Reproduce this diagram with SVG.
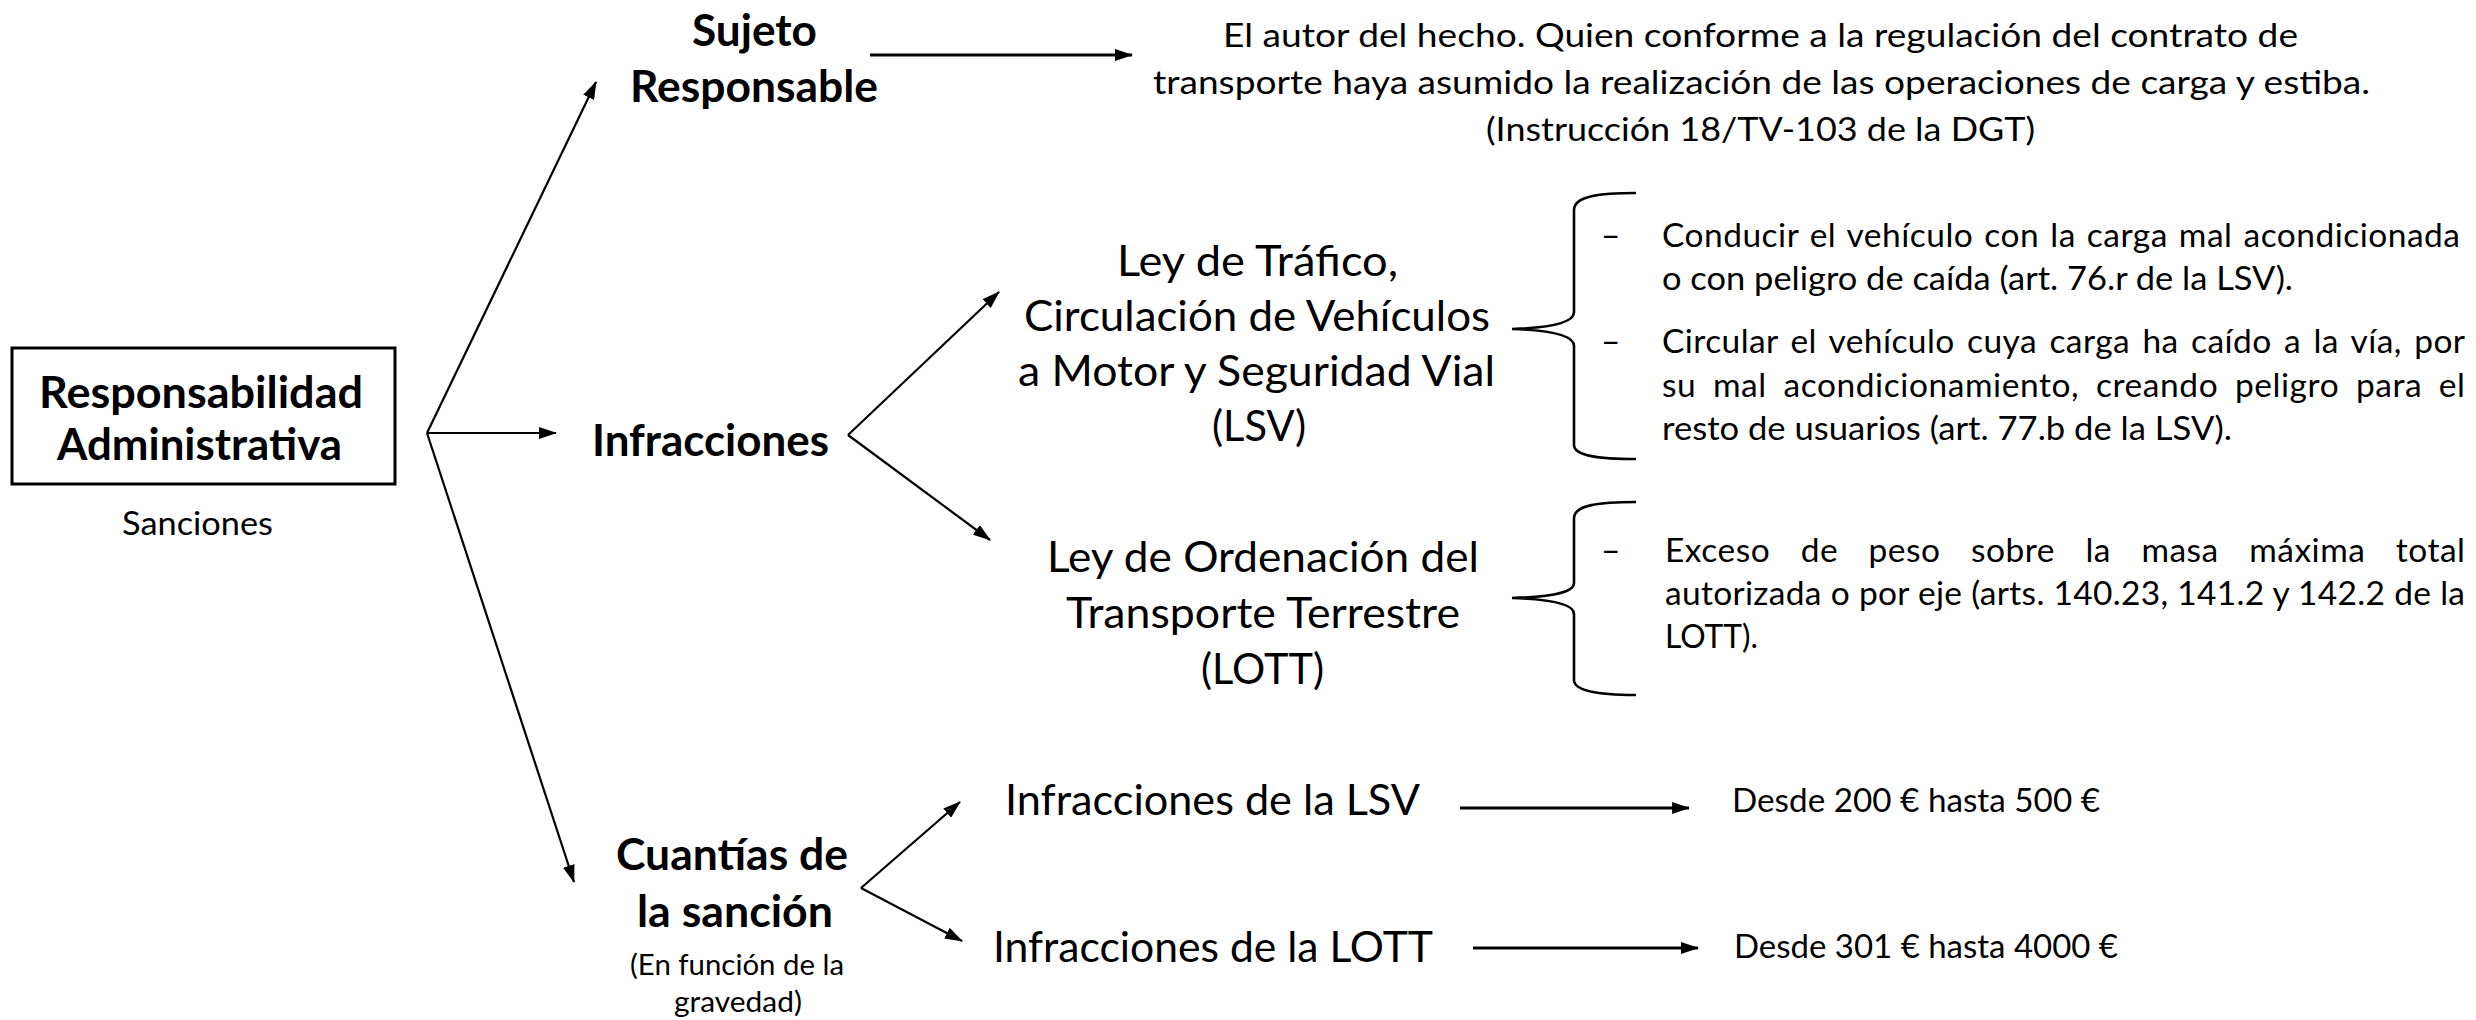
<svg xmlns="http://www.w3.org/2000/svg" width="2476" height="1020" viewBox="0 0 2476 1020">
<style>
text{font-family:Lato,"Liberation Sans",sans-serif;fill:#000}
.b{font-size:43px;font-weight:700}
.m{font-size:42.5px}
.s{font-size:33.5px}
.xs{font-size:28.5px}
.ln{stroke:#000;stroke-width:2.2;fill:none}
.lt{stroke:#000;stroke-width:3;fill:none}
.br{stroke:#000;stroke-width:2.6;fill:none}
</style>
<defs>
<marker id="ah" viewBox="0 0 18 12" refX="17" refY="6" markerWidth="18" markerHeight="12" markerUnits="userSpaceOnUse" orient="auto">
<path d="M0,0 L18,6 L0,12 Z" fill="#000"/>
</marker>
</defs>
<rect width="2476" height="1020" fill="#fff"/>

<g id="connectors">
<path class="ln" d="M427,433 L596,82" marker-end="url(#ah)"/>
<path class="ln" d="M427,433 L556,433" marker-end="url(#ah)"/>
<path class="ln" d="M427,433 L574,882" marker-end="url(#ah)"/>
<path class="lt" d="M870,55 L1132,55" marker-end="url(#ah)"/>
<path class="ln" d="M848,435 L999,292" marker-end="url(#ah)"/>
<path class="ln" d="M848,435 L990,540" marker-end="url(#ah)"/>
<path class="ln" d="M861,888 L960,802" marker-end="url(#ah)"/>
<path class="ln" d="M861,888 L962,941" marker-end="url(#ah)"/>
<path class="lt" d="M1460,808 L1689,808" marker-end="url(#ah)"/>
<path class="lt" d="M1473,948 L1698,948" marker-end="url(#ah)"/>
</g>

<g id="root">
<rect x="12" y="348" width="383" height="136" fill="none" stroke="#000" stroke-width="3"/>
<text class="b" x="39" y="408" textLength="324" lengthAdjust="spacingAndGlyphs">Responsabilidad</text>
<text class="b" x="57" y="460" textLength="285" lengthAdjust="spacingAndGlyphs">Administrativa</text>
<text class="s" x="122" y="535" textLength="151" lengthAdjust="spacingAndGlyphs">Sanciones</text>
</g>

<g id="sujeto">
<text class="b" x="692" y="46" textLength="125" lengthAdjust="spacingAndGlyphs">Sujeto</text>
<text class="b" x="630" y="102" textLength="248" lengthAdjust="spacingAndGlyphs">Responsable</text>
</g>

<g id="sujeto-def">
<text class="s" x="1223" y="47" textLength="1075" lengthAdjust="spacingAndGlyphs">El autor del hecho. Quien conforme a la regulación del contrato de</text>
<text class="s" x="1153" y="94" textLength="1217" lengthAdjust="spacingAndGlyphs">transporte haya asumido la realización de las operaciones de carga y estiba.</text>
<text class="s" x="1486" y="141" textLength="549" lengthAdjust="spacingAndGlyphs">(Instrucción 18/TV-103 de la DGT)</text>
</g>

<g id="infracciones">
<text class="b" x="592" y="456" textLength="237" lengthAdjust="spacingAndGlyphs">Infracciones</text>
</g>

<g id="lsv">
<text class="m" x="1117" y="276" textLength="281" lengthAdjust="spacingAndGlyphs">Ley de Tráfico,</text>
<text class="m" x="1024" y="331" textLength="466" lengthAdjust="spacingAndGlyphs">Circulación de Vehículos</text>
<text class="m" x="1018" y="386" textLength="477" lengthAdjust="spacingAndGlyphs">a Motor y Seguridad Vial</text>
<text class="m" x="1212" y="441" textLength="94" lengthAdjust="spacingAndGlyphs">(LSV)</text>
</g>

<g id="lsv-detail">
<path class="br" d="M1636,193 C1600,193 1574,196 1574,210 L1574,312 C1574,324 1545,328 1512,329 C1545,330 1574,334 1574,346 L1574,445 C1574,456 1600,459 1636,459"/>
<text class="s" x="1601" y="247">–</text>
<text class="s" x="1662" y="247" textLength="798" lengthAdjust="spacing" word-spacing="2">Conducir el vehículo con la carga mal acondicionada</text>
<text class="s" x="1662" y="290" textLength="631" lengthAdjust="spacingAndGlyphs">o con peligro de caída (art. 76.r de la LSV).</text>
<text class="s" x="1601" y="353">–</text>
<text class="s" x="1662" y="353" textLength="803" lengthAdjust="spacing" word-spacing="3.4">Circular el vehículo cuya carga ha caído a la vía, por</text>
<text class="s" x="1662" y="397" textLength="803" lengthAdjust="spacing" word-spacing="7.5">su mal acondicionamiento, creando peligro para el</text>
<text class="s" x="1662" y="440" textLength="570" lengthAdjust="spacingAndGlyphs">resto de usuarios (art. 77.b de la LSV).</text>
</g>

<g id="lott">
<text class="m" x="1047" y="572" textLength="432" lengthAdjust="spacingAndGlyphs">Ley de Ordenación del</text>
<text class="m" x="1066" y="628" textLength="394" lengthAdjust="spacingAndGlyphs">Transporte Terrestre</text>
<text class="m" x="1201" y="684" textLength="123" lengthAdjust="spacingAndGlyphs">(LOTT)</text>
</g>

<g id="lott-detail">
<path class="br" d="M1636,502 C1600,502 1574,505 1574,518 L1574,583 C1574,594 1545,597 1512,598 C1545,599 1574,603 1574,614 L1574,680 C1574,691 1600,695 1636,695"/>
<text class="s" x="1601" y="562">–</text>
<text class="s" x="1665" y="562" textLength="800" lengthAdjust="spacing" word-spacing="21.4">Exceso de peso sobre la masa máxima total</text>
<text class="s" x="1665" y="605" textLength="800" lengthAdjust="spacing">autorizada o por eje (arts. 140.23, 141.2 y 142.2 de la</text>
<text class="s" x="1665" y="648" textLength="93" lengthAdjust="spacingAndGlyphs">LOTT).</text>
</g>

<g id="cuantias">
<text class="b" x="616" y="870" textLength="232" lengthAdjust="spacingAndGlyphs">Cuantías de</text>
<text class="b" x="637" y="927" textLength="196" lengthAdjust="spacingAndGlyphs">la sanción</text>
<text class="xs" x="630" y="975" textLength="214" lengthAdjust="spacingAndGlyphs">(En función de la</text>
<text class="xs" x="674" y="1012" textLength="128" lengthAdjust="spacingAndGlyphs">gravedad)</text>
</g>

<g id="inf-lsv">
<text class="m" x="1005" y="815" textLength="415" lengthAdjust="spacingAndGlyphs">Infracciones de la LSV</text>
</g>
<g id="cuantia-lsv">
<text class="s" x="1732" y="812" textLength="368" lengthAdjust="spacingAndGlyphs">Desde 200 € hasta 500 €</text>
</g>
<g id="inf-lott">
<text class="m" x="993" y="962" textLength="440" lengthAdjust="spacingAndGlyphs">Infracciones de la LOTT</text>
</g>
<g id="cuantia-lott">
<text class="s" x="1734" y="958" textLength="384" lengthAdjust="spacingAndGlyphs">Desde 301 € hasta 4000 €</text>
</g>
</svg>
